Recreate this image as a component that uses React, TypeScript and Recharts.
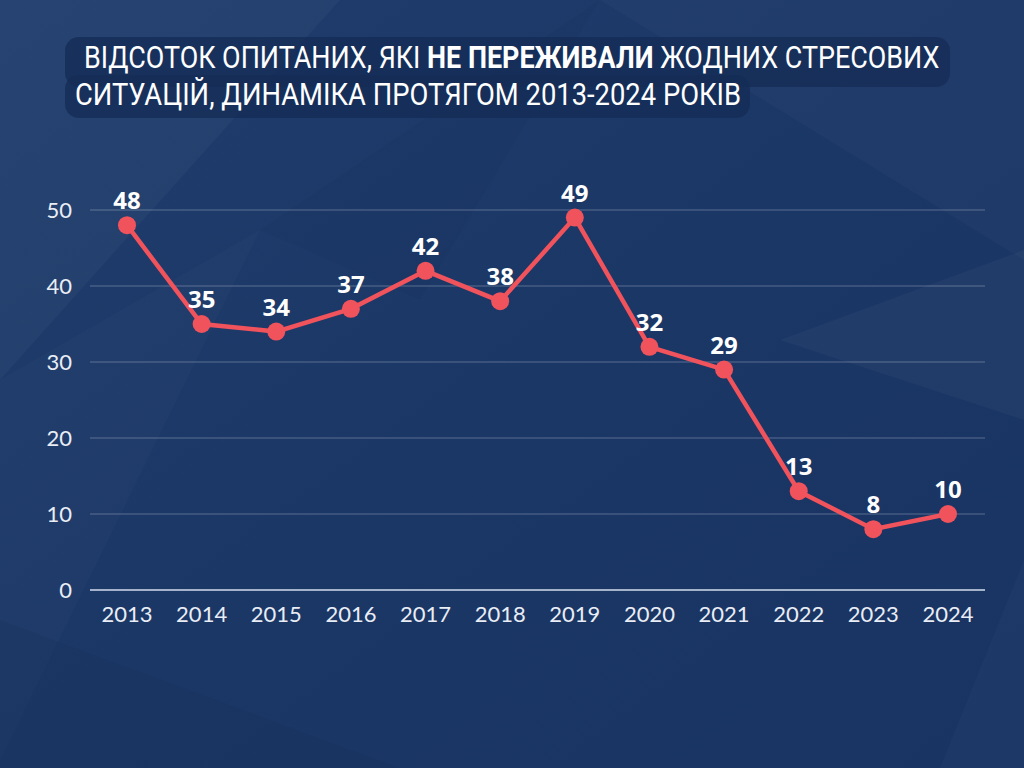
import { LineChart, Line, XAxis, YAxis, CartesianGrid, LabelList } from 'recharts'

const years = ['2013', '2014', '2015', '2016', '2017', '2018', '2019', '2020', '2021', '2022', '2023', '2024']
const noStress = [48, 35, 34, 37, 42, 38, 49, 32, 29, 13, 8, 10]
const yTicks = [0, 10, 20, 30, 40, 50]

const data = years.map((year, i) => ({ year, value: noStress[i] }))

const lineColor = '#f0535b'
const tickStyle = { fontSize: 22, fill: '#e9edf5', fontFamily: 'Lato, sans-serif' }

function Background() {
  return (
    <svg width={1024} height={768} style={{ position: 'absolute', left: 0, top: 0 }}>
      <defs>
        <linearGradient id="bg" x1="0" y1="0" x2="1" y2="1">
          <stop offset="0" stopColor="#1f3d6d" />
          <stop offset="0.5" stopColor="#1b3766" />
          <stop offset="1" stopColor="#193463" />
        </linearGradient>
      </defs>
      <rect width={1024} height={768} fill="url(#bg)" />
      <polygon points="0,0 340,0 0,380" fill="#ffffff" opacity={0.03} />
      <polygon points="0,380 260,230 0,760" fill="#ffffff" opacity={0.02} />
      <polygon points="600,0 1024,0 1024,260" fill="#ffffff" opacity={0.025} />
      <polygon points="780,340 1024,250 1024,420" fill="#ffffff" opacity={0.03} />
      <polygon points="260,230 600,0 420,300" fill="#000000" opacity={0.025} />
      <polygon points="0,620 400,768 0,768" fill="#000000" opacity={0.035} />
      <polygon points="940,768 1024,560 1024,768" fill="#ffffff" opacity={0.02} />
      <rect x={65} y={37} width={885} height={50} rx={14} fill="#142c55" opacity={0.75} />
      <rect x={65} y={75} width={685} height={43} rx={14} fill="#142c55" opacity={0.75} />
    </svg>
  )
}

const titleLine = {
  position: 'absolute' as const,
  whiteSpace: 'nowrap' as const,
  color: '#ffffff',
  fontFamily: "Roboto, 'Open Sans', sans-serif",
  fontSize: 31,
  lineHeight: '36px',
  transformOrigin: 'left center',
}

function Title() {
  return (
    <>
      <div style={{ ...titleLine, left: 84, top: 40, transform: 'scaleX(0.868)' }}>
        ВІДСОТОК ОПИТАНИХ, ЯКІ <b>НЕ ПЕРЕЖИВАЛИ</b> ЖОДНИХ СТРЕСОВИХ
      </div>
      <div style={{ ...titleLine, left: 75, top: 77, transform: 'scaleX(0.883)' }}>
        СИТУАЦІЙ, ДИНАМІКА ПРОТЯГОМ 2013-2024 РОКІВ
      </div>
    </>
  )
}

export default function App() {
  return (
    <div style={{ position: 'absolute', left: 0, top: 0, width: 1024, height: 768, overflow: 'hidden' }}>
      <Background />
      <Title />
      <div style={{ position: 'absolute', left: 0, top: 0 }}>
        <LineChart width={1024} height={768} data={data} margin={{ top: 210, right: 39, bottom: 0, left: 0 }}>
          <CartesianGrid vertical={false} stroke="#ffffff" strokeOpacity={0.28} strokeWidth={1} />
          <XAxis
            dataKey="year"
            height={178}
            padding={{ left: 37, right: 37 }}
            tick={tickStyle}
            tickLine={false}
            tickSize={0}
            tickMargin={16}
            axisLine={{ stroke: '#c9d3e6', strokeWidth: 1.5 }}
          />
          <YAxis
            width={90}
            domain={[0, 50]}
            ticks={yTicks}
            tick={tickStyle}
            tickLine={false}
            tickSize={0}
            tickMargin={18}
            axisLine={false}
          />
          <Line
            type="linear"
            dataKey="value"
            stroke={lineColor}
            strokeWidth={4.5}
            dot={{ r: 9, fill: lineColor, stroke: lineColor, strokeWidth: 0 }}
            isAnimationActive={false}
          >
            <LabelList
              dataKey="value"
              position="top"
              offset={16}
              style={{ fill: '#ffffff', fontSize: 24, fontWeight: 700, fontFamily: "'Open Sans', sans-serif" }}
            />
          </Line>
        </LineChart>
      </div>
    </div>
  )
}
